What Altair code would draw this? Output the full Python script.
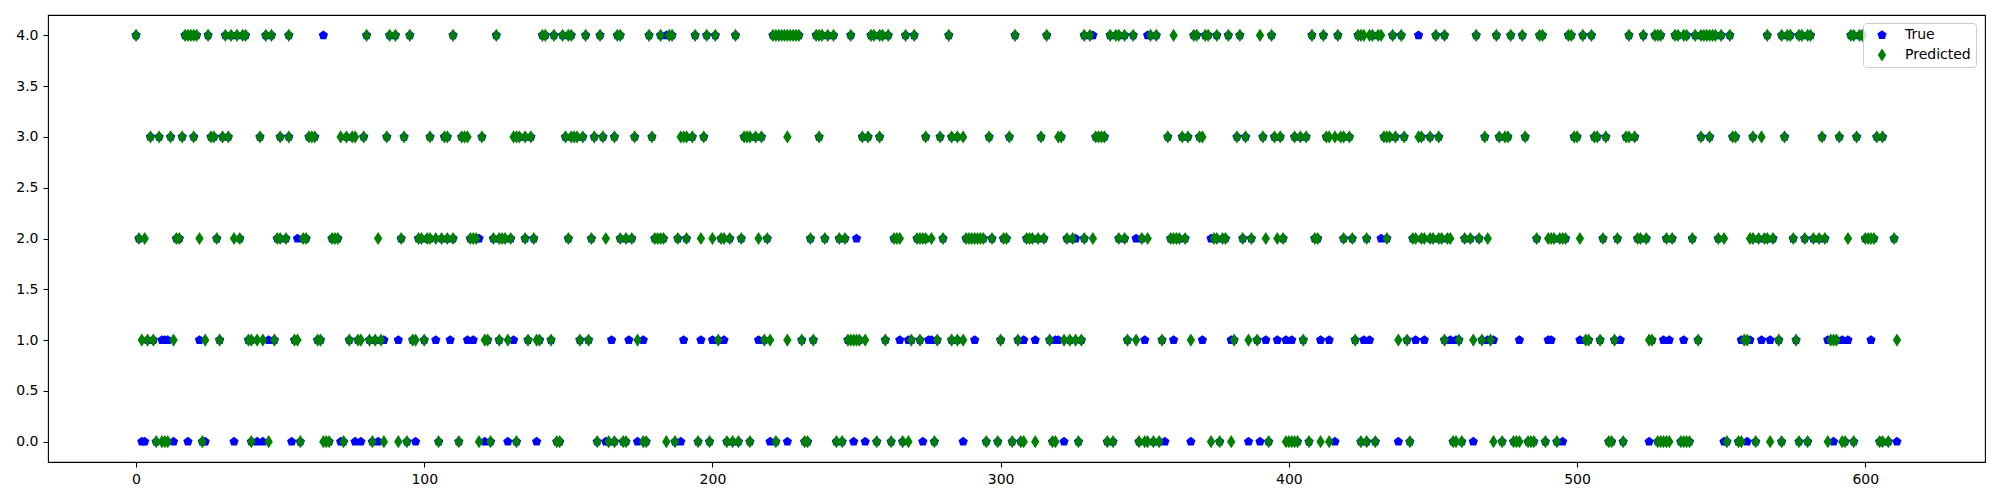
import altair as alt
import pandas as pd

# ---- Predicted label per sample index, one list per class ----
PRED_0 = [7, 9, 10, 11, 23, 40, 46,
          57, 65, 66, 67, 72, 82, 86, 91, 94, 105, 112,
          119, 123, 132, 146, 147, 160, 164, 166, 169,
          170, 176, 177, 184, 187, 195, 199, 205, 207, 209, 213, 222,
          232, 233, 243, 245, 257, 262, 266, 268, 277,
          295, 299, 304, 307, 308, 312, 318, 319, 327, 337, 339,
          348, 350, 351, 353, 355, 373, 376, 380, 393, 399,
          400, 401, 402, 403, 407, 411, 414, 425, 427, 430, 442, 457,
          458, 460, 471, 474, 478, 479, 480, 483, 484, 485, 489, 493, 511, 512,
          516, 528, 529, 530, 531, 532, 536, 537, 538, 539, 552, 556, 557, 562, 567, 571,
          577, 580, 587, 592, 593, 596, 605, 606, 608]
PRED_1 = [2, 4, 6, 13, 24, 29, 39, 40, 42, 44, 48,
          55, 56, 63, 64, 74, 77, 78, 81, 83, 85, 96, 97, 100,
          121, 122, 126, 129, 136, 139, 140, 144, 154, 157,
          174, 202, 218, 220, 226,
          231, 235, 247, 248, 249, 250, 251, 253, 260, 269, 272, 278, 283,
          285, 287, 300, 306, 317, 322, 324, 326, 328,
          344, 347, 356, 366, 381, 386, 389,
          405, 423, 438, 441, 454,
          459, 464, 467, 470, 503, 504, 508, 513,
          525, 526, 542, 558, 559, 570,
          576, 588, 589, 590, 611]
PRED_2 = [1, 3, 14, 15, 22, 28, 34, 36, 49, 50, 52,
          58, 59, 68, 69, 70, 84, 92, 98, 99, 101, 102, 104, 106, 108, 110,
          116, 117, 118, 124, 126, 127, 128, 130, 135, 138, 150, 158, 163, 168,
          170, 172, 180, 181, 182, 183, 188, 191, 196, 200, 203, 204, 206, 210, 216, 219,
          234, 239, 244, 246, 263, 264, 265, 271, 272, 273, 274, 276, 280,
          288, 289, 290, 291, 292, 293, 294, 297, 301, 302, 309, 310, 311, 313, 315,
          323, 325, 329, 332, 341,
          343, 349, 351, 359, 360, 361, 362, 364, 374, 375, 377, 378, 384, 387, 392, 396, 398,
          409, 410, 419, 422, 427, 434, 443, 444, 446, 447, 449, 450, 452, 453, 455, 456,
          461, 463, 466, 469, 486, 490, 491, 492, 494, 495, 496, 501, 509, 514,
          521, 522, 524, 531, 533, 540, 549, 551, 560, 561, 563, 565, 566, 568,
          575, 579, 582, 584, 586, 594, 600, 601, 602, 603, 610]
PRED_3 = [5, 8, 12, 16, 20, 26, 27, 30, 32, 43, 50, 53,
          60, 61, 62, 71, 73, 75, 76, 79, 87, 93, 102, 107, 108,
          113, 114, 115, 120, 131, 132, 133, 135, 137, 149, 151, 152, 153, 155, 159, 162, 166,
          173, 179, 189, 190, 191, 193, 197, 211, 212, 213, 215, 217, 226,
          237, 252, 254, 258, 274, 279, 283,
          285, 287, 296, 303, 314, 320, 321, 333, 334, 335, 336,
          358, 363, 365, 369, 370, 382, 385, 391, 395, 397,
          402, 404, 406, 413, 414, 416, 418, 419, 421, 433, 434, 435, 437, 440, 445, 446, 449, 452,
          468, 473, 475, 476, 482, 499, 500, 506, 507, 510,
          517, 518, 520, 543, 546, 554, 555, 561, 564, 572,
          585, 591, 597, 604, 606]
PRED_4 = [0, 17, 18, 19, 20, 21, 25, 31, 33, 35, 37, 38, 45, 47, 53,
          80, 88, 90, 95, 110,
          125, 141, 142, 145, 148, 150, 151, 156, 161, 167, 168,
          178, 182, 185, 186, 194, 198, 201, 208, 221, 222, 223, 224, 225, 226,
          227, 228, 229, 230, 236, 237, 238, 240, 242, 248, 255, 256, 258, 259, 261, 267, 270, 282,
          305, 316, 329, 331, 338, 340, 341,
          343, 346, 352, 354, 360, 367, 368, 371, 372, 375, 379, 383, 390, 394,
          408, 412, 417, 424, 425, 426, 428, 429, 431, 432, 436, 439, 451, 454,
          465, 472, 477, 481, 487, 488, 497, 498, 502, 505,
          518, 523, 527, 528, 529, 534, 535, 537, 538, 541, 543, 544, 545, 546, 547, 548, 550, 553,
          566, 571,
          573, 574, 577, 578, 580, 581, 595, 596, 598, 599]

# ---- True label where it differs from the prediction (visible blue pentagons) ----
TRUE_0 = [2, 3, 13, 18, 24, 34, 42, 44, 54, 71, 76, 78, 84, 97, 121, 129, 139, 163,
          174, 189, 220, 226, 249, 253, 273, 287, 322, 357, 366, 386, 390, 416, 438,
          464, 495, 525, 551, 559, 589, 611]
TRUE_1 = [9, 10, 11, 22, 46, 86, 91, 104, 109, 115, 117, 131, 165, 171, 176, 190, 196,
          200, 204, 216, 265, 268, 275, 276, 291, 308, 312, 319, 320, 350, 360, 370, 380,
          392, 396, 399, 401, 411, 414, 426, 428, 444, 447, 456, 458, 469, 471, 480, 490,
          491, 501, 515, 530, 532, 537, 557, 560, 564, 567, 587, 592, 594, 602]
TRUE_2 = [56, 119, 250, 326, 347, 373, 432]
TRUE_3 = []
TRUE_4 = [65, 184, 332, 351, 445]

SERIES = ["True", "Predicted"]
COLORS = ["#0000ff", "#008000"]
PENTAGON = "M0,-1L0.951,-0.309L0.588,0.809L-0.588,0.809L-0.951,-0.309Z"
DIAMOND = "M0,-1L0.64,0L0,1L-0.64,0Z"
SHAPES = [PENTAGON, DIAMOND]
SIZES = [95, 174]
X_TICKS = [0, 100, 200, 300, 400, 500, 600]
Y_TICKS = [0.0, 0.5, 1.0, 1.5, 2.0, 2.5, 3.0, 3.5, 4.0]

pred_lists = [PRED_0, PRED_1, PRED_2, PRED_3, PRED_4]
true_lists = [TRUE_0, TRUE_1, TRUE_2, TRUE_3, TRUE_4]
mismatch = set(i for lst in true_lists for i in lst)

pred_rows = [{"index": i, "label": float(v), "series": "Predicted"}
             for v, lst in enumerate(pred_lists) for i in lst]
true_rows = [{"index": r["index"], "label": r["label"], "series": "True"}
             for r in pred_rows if r["index"] not in mismatch]
true_rows += [{"index": i, "label": float(v), "series": "True"}
              for v, lst in enumerate(true_lists) for i in lst]
df = pd.DataFrame(true_rows + pred_rows)
df["order"] = (df["series"] == "Predicted").astype(int)

FONT = "DejaVu Sans"

legend = alt.Legend(
    title=None, orient="none", legendX=1815, legendY=8,
    padding=5, rowPadding=6, symbolOffset=7, labelOffset=16,
    labelFont=FONT, labelFontSize=14, labelColor="#000000",
    fillColor="rgba(255,255,255,0.8)", strokeColor="#cccccc", cornerRadius=3,
    symbolStrokeWidth=0, symbolOpacity=1,
)

axis_common = dict(
    title=None, grid=False, domain=False,
    labelFont=FONT, labelFontSize=14, labelColor="#000000",
    tickColor="#000000", tickSize=5, tickWidth=1.1, labelPadding=5,
)

chart = alt.Chart(df).mark_point(filled=True, opacity=1).encode(
    x=alt.X("index:Q",
            scale=alt.Scale(domain=[-30.55, 641.55], nice=False, zero=False),
            axis=alt.Axis(values=X_TICKS, format="d", **axis_common)),
    y=alt.Y("label:Q",
            scale=alt.Scale(domain=[-0.2, 4.2], nice=False, zero=False),
            axis=alt.Axis(values=Y_TICKS, format=".1f", **axis_common)),
    color=alt.Color("series:N", scale=alt.Scale(domain=SERIES, range=COLORS), legend=legend),
    shape=alt.Shape("series:N", scale=alt.Scale(domain=SERIES, range=SHAPES), legend=legend),
    size=alt.Size("series:N", scale=alt.Scale(domain=SERIES, range=SIZES), legend=legend),
    order=alt.Order("order:Q"),
).properties(
    width=1937, height=447,
    autosize=alt.AutoSizeParams(type="none"),
    padding={"left": 40, "top": 7, "right": 7, "bottom": 30},
    background="#ffffff",
).configure_view(
    stroke="#000000", strokeWidth=1.1
)

chart.save("out.html", embed_options={"renderer": "svg", "actions": False})
